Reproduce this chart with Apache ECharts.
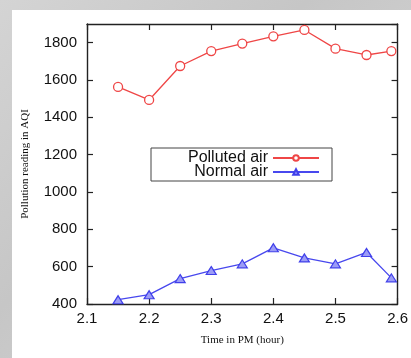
<!DOCTYPE html>
<html>
<head>
<meta charset="utf-8">
<script src="https://cdn.jsdelivr.net/npm/echarts@6/dist/echarts.min.js"></script>
<style>
  html, body { margin: 0; padding: 0; width: 411px; height: 358px; overflow: hidden;
    background: linear-gradient(135deg, #d4d4d4 0%, #c6c6c6 40%, #d0d0d0 70%, #c4c4c4 100%); }
  #chart { position: absolute; left: 12px; top: 10px; width: 399px; height: 348px; background: #ffffff; }
</style>
</head>
<body>
<div id="chart"></div>
<script>
// Sampling times (hours after noon)
const times = [2.15, 2.2, 2.25, 2.3, 2.35, 2.4, 2.45, 2.5, 2.55, 2.59];
// AQI readings
const pollutedAir = [1563, 1493, 1675, 1755, 1795, 1834, 1868, 1768, 1734, 1755];
const normalAir = [423, 450, 536, 579, 615, 701, 647, 615, 676, 540];
const seriesNames = ['Polluted air', 'Normal air'];

const toPairs = (xs, ys) => xs.map((x, i) => [x, ys[i]]);

const sansFont = '"Liberation Sans", Arial, Helvetica, sans-serif';
const serifFont = '"Liberation Serif", "Times New Roman", serif';

const frameLine = { show: true, onZero: false, lineStyle: { color: '#222', width: 1.4 } };
const innerTick = { show: true, inside: true, length: 6, lineStyle: { color: '#222', width: 1.2 } };

const chart = echarts.init(document.getElementById('chart'), null, { renderer: 'canvas' });
chart.setOption({
  animation: false,
  grid: { left: 75, right: 12, top: 14, bottom: 54 },
  xAxis: [
    {
      type: 'value', min: 2.1, max: 2.6, interval: 0.1,
      axisLine: frameLine, axisTick: innerTick, splitLine: { show: false },
      axisLabel: { color: '#111', fontFamily: sansFont, fontSize: 15, margin: 7,
        formatter: v => v.toFixed(1) },
      name: 'Time in PM (hour)', nameLocation: 'middle', nameGap: 31,
      nameTextStyle: { color: '#111', fontFamily: serifFont, fontSize: 11 }
    },
    {
      type: 'value', position: 'top', min: 2.1, max: 2.6, interval: 0.1,
      axisLine: frameLine, axisTick: innerTick, axisLabel: { show: false }, splitLine: { show: false }
    }
  ],
  yAxis: [
    {
      type: 'value', min: 400, max: 1900, interval: 200,
      axisLine: frameLine, axisTick: innerTick, splitLine: { show: false },
      axisLabel: { color: '#111', fontFamily: sansFont, fontSize: 15, margin: 10, showMaxLabel: false,
        formatter: v => (v % 200 === 0 ? String(v) : '') },
      name: 'Pollution reading in AQI', nameLocation: 'middle', nameGap: 56,
      nameTextStyle: { color: '#111', fontFamily: serifFont, fontSize: 11 }
    },
    {
      type: 'value', position: 'right', min: 400, max: 1900, interval: 200,
      axisLine: frameLine, axisTick: innerTick, axisLabel: { show: false }, splitLine: { show: false }
    }
  ],
  legend: {
    orient: 'vertical', left: 139, top: 138, align: 'right',
    data: seriesNames,
    backgroundColor: '#fff', borderColor: '#444', borderWidth: 1, borderRadius: 0,
    padding: [2, 12, 1, 31], itemGap: -2, itemWidth: 46, itemHeight: 7,
    textStyle: { color: '#111', fontFamily: sansFont, fontSize: 16, lineHeight: 13,
      width: 86, align: 'right' }
  },
  series: [
    {
      name: seriesNames[0], type: 'line', data: toPairs(times, pollutedAir),
      symbol: 'circle', symbolSize: 9,
      lineStyle: { color: '#ef4646', width: 1.3 },
      itemStyle: { color: '#ffffff', borderColor: '#ef4646', borderWidth: 1.3 }
    },
    {
      name: seriesNames[1], type: 'line', data: toPairs(times, normalAir),
      symbol: 'triangle', symbolSize: [10, 8],
      lineStyle: { color: '#4848ee', width: 1.3 },
      itemStyle: { color: '#9c9cf6', borderColor: '#4040ea', borderWidth: 1.2 }
    }
  ]
});
</script>
</body>
</html>
